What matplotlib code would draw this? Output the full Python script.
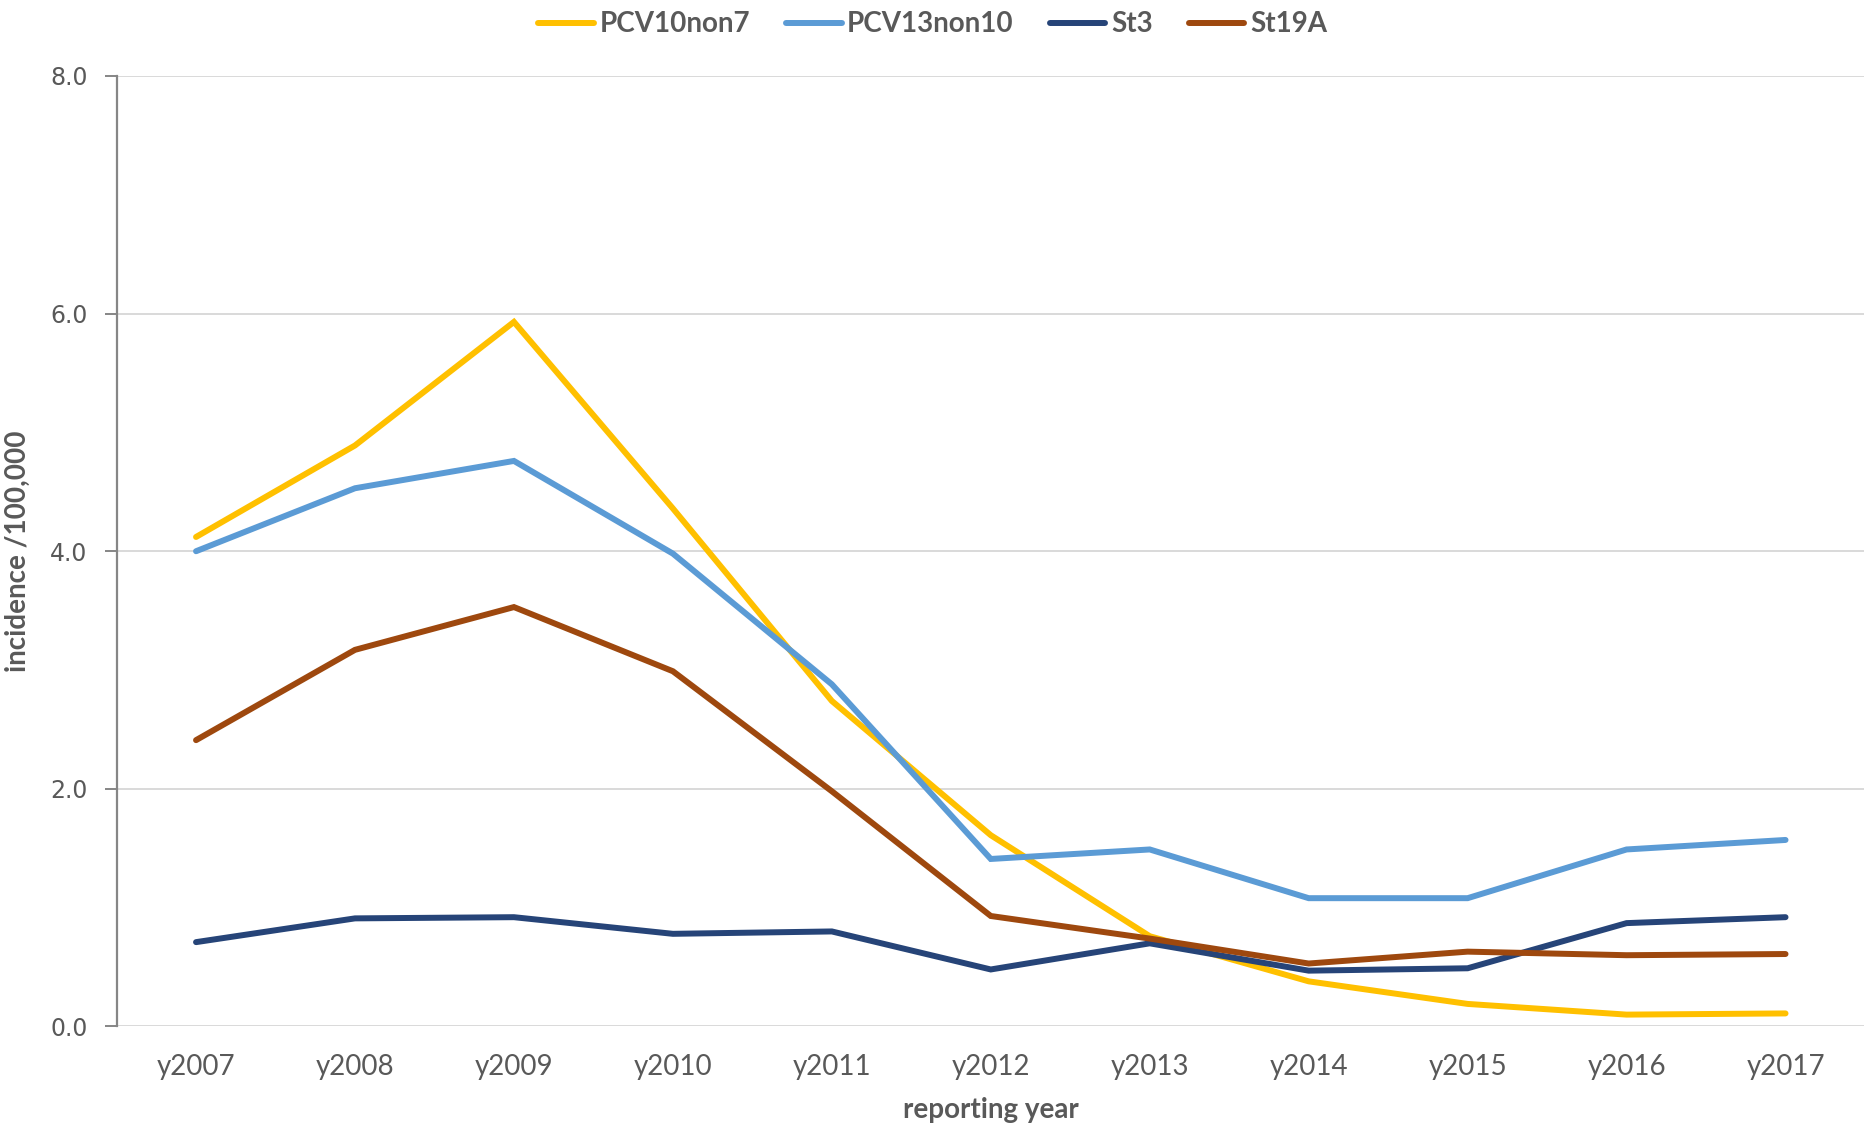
import matplotlib
matplotlib.use("Agg")
import matplotlib.pyplot as plt

# values (incidence per 100,000)
years = ["y2007", "y2008", "y2009", "y2010", "y2011", "y2012",
         "y2013", "y2014", "y2015", "y2016", "y2017"]
pcv10non7 = [4.12, 4.89, 5.93, 4.36, 2.74, 1.61, 0.76, 0.38, 0.19, 0.10, 0.11]
pcv13non10 = [4.00, 4.53, 4.76, 3.98, 2.88, 1.41, 1.49, 1.08, 1.08, 1.49, 1.57]
st3 = [0.71, 0.91, 0.92, 0.78, 0.80, 0.48, 0.70, 0.47, 0.49, 0.87, 0.92]
st19a = [2.41, 3.17, 3.53, 2.99, 1.98, 0.93, 0.74, 0.53, 0.63, 0.60, 0.61]

series = {
    "PCV10non7": (pcv10non7, "#FFC000"),
    "PCV13non10": (pcv13non10, "#5B9BD5"),
    "St3": (st3, "#264478"),
    "St19A": (st19a, "#9E480E"),
}

TEXT = "#595959"
NARROW = ["Lato", "DejaVu Sans"]

fig = plt.figure(figsize=(18.65, 11.32), dpi=100)
ax = fig.add_axes([0.0625, 0.0932, 0.9375, 0.8397])

x = list(range(len(years)))
for name, (vals, col) in series.items():
    ax.plot(x, vals, color=col, lw=4.3, label=name,
            solid_capstyle="round", solid_joinstyle="miter")

ax.set_xlim(-0.5, len(years) - 0.5)
ax.set_ylim(0, 8)
ax.set_yticks([0, 2, 4, 6, 8])
ax.set_yticklabels([f"{v:.1f}" for v in [0, 2, 4, 6, 8]],
                   fontsize=17, color=TEXT, family="DejaVu Sans")
ax.set_xticks(x)
ax.set_xticklabels(years, fontsize=20, color=TEXT, family=NARROW)

ax.grid(axis="y", color="#D9D9D9", lw=1.4)
ax.set_axisbelow(True)
for s in ["top", "right", "bottom"]:
    ax.spines[s].set_visible(False)
ax.spines["left"].set_color("#868686")
ax.spines["left"].set_linewidth(1.6)
ax.tick_params(axis="y", length=9, width=1.4, color="#868686", pad=12)
ax.tick_params(axis="x", length=0, pad=20)

ax.set_xlabel("reporting year", fontsize=20, fontweight="bold", color=TEXT,
              family=NARROW, labelpad=12)
ax.set_ylabel("incidence /100,000", fontsize=20, fontweight="bold", color=TEXT,
              family=NARROW, labelpad=14)

fig.legend(loc="upper center", bbox_to_anchor=(0.5, 1.012), ncol=4, frameon=False,
           handlelength=2.0, columnspacing=1.3, handletextpad=0.2,
           prop={"family": NARROW, "size": 20, "weight": "bold"},
           labelcolor=TEXT)

fig.savefig("out.png", dpi=100)
